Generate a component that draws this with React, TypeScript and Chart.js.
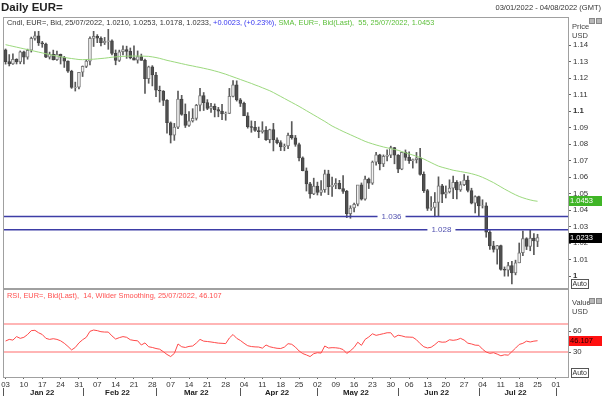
import React, { useEffect, useRef } from "react";
import { Chart, registerables } from "chart.js";

Chart.register(...registerables);

const FONT = "'Liberation Sans', Arial, Helvetica, sans-serif";

// Trading days Jan 3 2022 .. Jul 25 2022 (index 0..145), EUR= daily candles
const opens = [
  1.1370, 1.1299, 1.1285, 1.1313, 1.1297, 1.1359, 1.1327, 1.1368, 1.1440, 1.1455,
  1.1413, 1.1406, 1.1326, 1.1343, 1.1311, 1.1343, 1.1326, 1.1302, 1.1241, 1.1143,
  1.1145, 1.1235, 1.1270, 1.1302, 1.1440, 1.1452, 1.1441, 1.1414, 1.1422, 1.1425,
  1.1349, 1.1307, 1.1359, 1.1373, 1.1361, 1.1322, 1.1308, 1.1330, 1.1307, 1.1196,
  1.1267, 1.1218, 1.1126, 1.1121, 1.1064, 1.0929, 1.0854, 1.0902, 1.1073, 1.0980,
  1.0912, 1.0940, 1.0955, 1.1035, 1.1093, 1.1051, 1.1016, 1.1028, 1.1008, 1.0999,
  1.0983, 1.0985, 1.1089, 1.1159, 1.1067, 1.1046, 1.0970, 1.0905, 1.0901, 1.0882,
  1.0875, 1.0885, 1.0826, 1.0888, 1.0826, 1.0808, 1.0782, 1.0788, 1.0853, 1.0838,
  1.0797, 1.0716, 1.0638, 1.0558, 1.0498, 1.0545, 1.0507, 1.0523, 1.0619, 1.0542,
  1.0551, 1.0561, 1.0530, 1.0513, 1.0378, 1.0412, 1.0435, 1.0553, 1.0465, 1.0588,
  1.0563, 1.0690, 1.0735, 1.0680, 1.0725, 1.0733, 1.0779, 1.0733, 1.0648, 1.0749,
  1.0719, 1.0699, 1.0705, 1.0716, 1.0616, 1.0517, 1.0410, 1.0415, 1.0446, 1.0547,
  1.0496, 1.0509, 1.0533, 1.0567, 1.0522, 1.0554, 1.0582, 1.0518, 1.0441, 1.0481,
  1.0425, 1.0426, 1.0265, 1.0183, 1.0161, 1.0185, 1.0040, 1.0036, 1.0063, 1.0019,
  1.0080, 1.0141, 1.0227, 1.0179, 1.0230, 1.0210,
];
const highs = [
  1.1376, 1.1342, 1.1346, 1.1317, 1.1364, 1.1363, 1.1375, 1.1448, 1.1482, 1.1483,
  1.1422, 1.1412, 1.1357, 1.1369, 1.1363, 1.1345, 1.1331, 1.1304, 1.1247, 1.1175,
  1.1235, 1.1273, 1.1312, 1.1449, 1.1483, 1.1463, 1.1449, 1.1446, 1.1495, 1.1431,
  1.1370, 1.1369, 1.1395, 1.1393, 1.1382, 1.1395, 1.1364, 1.1345, 1.1315, 1.1272,
  1.1275, 1.1234, 1.1151, 1.1124, 1.1069, 1.0934, 1.0925, 1.1121, 1.1095, 1.1043,
  1.0997, 1.1014, 1.1040, 1.1137, 1.1112, 1.1069, 1.1047, 1.1043, 1.1022, 1.1040,
  1.0994, 1.1137, 1.1185, 1.1183, 1.1076, 1.1054, 1.0990, 1.0940, 1.0937, 1.0903,
  1.0935, 1.0905, 1.0890, 1.0925, 1.0837, 1.0820, 1.0800, 1.0866, 1.0936, 1.0852,
  1.0806, 1.0722, 1.0655, 1.0567, 1.0593, 1.0569, 1.0579, 1.0642, 1.0641, 1.0600,
  1.0590, 1.0580, 1.0608, 1.0519, 1.0426, 1.0442, 1.0548, 1.0564, 1.0605, 1.0594,
  1.0697, 1.0749, 1.0738, 1.0734, 1.0765, 1.0787, 1.0780, 1.0736, 1.0748, 1.0764,
  1.0752, 1.0709, 1.0749, 1.0774, 1.0631, 1.0525, 1.0481, 1.0506, 1.0601, 1.0555,
  1.0546, 1.0583, 1.0606, 1.0578, 1.0572, 1.0615, 1.0606, 1.0532, 1.0486, 1.0485,
  1.0462, 1.0444, 1.0275, 1.0210, 1.0186, 1.0187, 1.0055, 1.0083, 1.0089, 1.0096,
  1.0200, 1.0273, 1.0232, 1.0278, 1.0257, 1.0253,
];
const lows = [
  1.1284, 1.1273, 1.1283, 1.1285, 1.1286, 1.1285, 1.1314, 1.1357, 1.1429, 1.1397,
  1.1386, 1.1323, 1.1315, 1.1309, 1.1306, 1.1285, 1.1264, 1.1234, 1.1137, 1.1121,
  1.1134, 1.1209, 1.1263, 1.1280, 1.1391, 1.1414, 1.1395, 1.1403, 1.1374, 1.1340,
  1.1280, 1.1300, 1.1340, 1.1319, 1.1316, 1.1309, 1.1290, 1.1307, 1.1106, 1.1168,
  1.1152, 1.1087, 1.1054, 1.1033, 1.0865, 1.0806, 1.0822, 1.0893, 1.0974, 1.0900,
  1.0906, 1.0933, 1.0945, 1.1000, 1.1003, 1.1008, 1.0991, 1.0964, 1.0965, 1.0947,
  1.0944, 1.0984, 1.1085, 1.1060, 1.1027, 1.0972, 1.0896, 1.0871, 1.0876, 1.0838,
  1.0866, 1.0822, 1.0807, 1.0758, 1.0800, 1.0760, 1.0759, 1.0772, 1.0829, 1.0786,
  1.0697, 1.0637, 1.0515, 1.0471, 1.0493, 1.0491, 1.0489, 1.0507, 1.0493, 1.0483,
  1.0529, 1.0527, 1.0500, 1.0354, 1.0350, 1.0389, 1.0425, 1.0460, 1.0460, 1.0530,
  1.0555, 1.0671, 1.0643, 1.0663, 1.0698, 1.0717, 1.0680, 1.0627, 1.0644, 1.0701,
  1.0683, 1.0654, 1.0685, 1.0611, 1.0506, 1.0397, 1.0398, 1.0359, 1.0360, 1.0444,
  1.0473, 1.0503, 1.0469, 1.0467, 1.0513, 1.0548, 1.0510, 1.0437, 1.0382, 1.0366,
  1.0412, 1.0235, 1.0161, 1.0145, 1.0072, 1.0035, 0.9999, 0.9999, 0.9952, 1.0007,
  1.0080, 1.0123, 1.0160, 1.0153, 1.0130, 1.0178,
];
const closes = [
  1.1299, 1.1285, 1.1313, 1.1297, 1.1359, 1.1327, 1.1368, 1.1440, 1.1455, 1.1413,
  1.1406, 1.1326, 1.1343, 1.1311, 1.1343, 1.1326, 1.1302, 1.1241, 1.1143, 1.1145,
  1.1235, 1.1270, 1.1302, 1.1440, 1.1452, 1.1441, 1.1414, 1.1422, 1.1425, 1.1349,
  1.1307, 1.1359, 1.1373, 1.1361, 1.1322, 1.1308, 1.1330, 1.1307, 1.1196, 1.1267,
  1.1218, 1.1126, 1.1121, 1.1064, 1.0929, 1.0854, 1.0902, 1.1073, 1.0980, 1.0912,
  1.0940, 1.0955, 1.1035, 1.1093, 1.1051, 1.1016, 1.1028, 1.1008, 1.0999, 1.0983,
  1.0985, 1.1089, 1.1159, 1.1067, 1.1046, 1.0970, 1.0905, 1.0901, 1.0882, 1.0875,
  1.0885, 1.0826, 1.0888, 1.0826, 1.0808, 1.0782, 1.0788, 1.0853, 1.0838, 1.0797,
  1.0716, 1.0638, 1.0558, 1.0498, 1.0545, 1.0507, 1.0523, 1.0619, 1.0542, 1.0551,
  1.0561, 1.0530, 1.0513, 1.0378, 1.0412, 1.0435, 1.0553, 1.0465, 1.0588, 1.0563,
  1.0690, 1.0735, 1.0680, 1.0725, 1.0733, 1.0779, 1.0733, 1.0648, 1.0749, 1.0719,
  1.0699, 1.0705, 1.0716, 1.0616, 1.0517, 1.0410, 1.0415, 1.0446, 1.0547, 1.0496,
  1.0509, 1.0533, 1.0567, 1.0522, 1.0554, 1.0582, 1.0518, 1.0441, 1.0481, 1.0425,
  1.0426, 1.0265, 1.0183, 1.0161, 1.0185, 1.0040, 1.0036, 1.0063, 1.0019, 1.0080,
  1.0141, 1.0227, 1.0179, 1.0230, 1.0212, 1.0233,
];

// 55-day simple moving average
const sma55 = [
  1.1402, 1.1397, 1.1392, 1.1387, 1.1382, 1.1377, 1.1372, 1.1367, 1.1362, 1.1357,
  1.1352, 1.1347, 1.1342, 1.1337, 1.1333, 1.1329, 1.1325, 1.1321, 1.1318, 1.1315,
  1.1312, 1.1311, 1.1312, 1.1313, 1.1314, 1.1316, 1.1318, 1.1320, 1.1323, 1.1326,
  1.1328, 1.1330, 1.1331, 1.1332, 1.1333, 1.1333, 1.1333, 1.1333, 1.1332, 1.1331,
  1.1328, 1.1324, 1.1319, 1.1313, 1.1307, 1.1302, 1.1297, 1.1292, 1.1287, 1.1282,
  1.1277, 1.1273, 1.1268, 1.1264, 1.1259, 1.1254, 1.1249, 1.1243, 1.1237, 1.1230,
  1.1223, 1.1215, 1.1207, 1.1199, 1.1191, 1.1183, 1.1175, 1.1167, 1.1158, 1.1150,
  1.1141, 1.1132, 1.1123, 1.1112, 1.1100, 1.1088, 1.1076, 1.1064, 1.1052, 1.1040,
  1.1028, 1.1015, 1.1002, 1.0989, 1.0976, 1.0963, 1.0950, 1.0937, 1.0923, 1.0909,
  1.0898, 1.0887, 1.0876, 1.0866, 1.0856, 1.0846, 1.0836, 1.0826, 1.0816, 1.0808,
  1.0801, 1.0794, 1.0788, 1.0782, 1.0777, 1.0772, 1.0767, 1.0762, 1.0754, 1.0747,
  1.0740, 1.0733, 1.0726, 1.0718, 1.0709, 1.0698, 1.0687, 1.0676, 1.0666, 1.0659,
  1.0653, 1.0647, 1.0641, 1.0637, 1.0633, 1.0629, 1.0625, 1.0620, 1.0614, 1.0607,
  1.0598, 1.0588, 1.0577, 1.0566, 1.0553, 1.0540, 1.0527, 1.0515, 1.0503, 1.0492,
  1.0482, 1.0474, 1.0467, 1.0461, 1.0456, 1.0453,
];

// RSI(14)
const rsi14 = [
  45.7, 48, 47, 52, 49.5, 51, 55, 60.5, 61, 57.5,
  55, 49.5, 48, 49, 48, 46, 42.5, 38, 33, 36.5,
  43, 47.5, 51, 59.5, 61.4, 60.5, 59, 58.5, 58.5, 53,
  48.5, 50.5, 52, 51, 47.5, 46.5, 46, 40, 43, 37.5,
  36.5, 35, 34, 30.5, 26.5, 23.5, 28, 41.5, 37.5, 36.5,
  38, 38.6, 42.8, 48, 45.5, 45, 44.3, 43.5, 42.7, 42.4,
  42, 50, 55, 49.5, 46.5, 42.5, 39, 37.8, 37.3, 37.1,
  35.5, 40, 37.5, 36.3, 35.3, 35, 37, 41.9, 41, 37,
  31.5, 27.8, 25.8, 23.5, 27.6, 29, 28.5, 38.6, 35.7, 36.2,
  36, 35.3, 33.5, 28, 31.8, 36.5, 44, 39.5, 48, 51.5,
  56, 53.8, 55, 56.2, 57.5, 57.5, 51, 54, 53, 51.5,
  51.3, 51, 47.5, 42, 37.5, 35.8, 36.8, 40.5, 45, 44,
  44.3, 47.5, 46.7, 47.5, 49.5, 47, 42.6, 41.5, 39.8, 39.5,
  34, 30, 28.1, 29, 27, 24.6, 26, 25.5, 30.5, 35.5,
  40.8, 42.4, 45.5, 44.3, 45.5, 46.107,
];

const levels = [1.036, 1.028];
const priceTicks = [1.14, 1.13, 1.12, 1.11, 1.1, 1.09, 1.08, 1.07, 1.06, 1.05, 1.04, 1.03, 1.02, 1.01, 1];
const rsiTicks = [60, 30];
const rsiBands = [70, 30];
const weekLabels = [
  "03", "10", "17", "24", "31", "07", "14", "21", "28", "07", "14", "21", "28",
  "04", "11", "18", "25", "02", "09", "16", "23", "30", "06", "13", "20", "27",
  "04", "11", "18", "25", "01",
];
const monthLabels = ["Jan 22", "Feb 22", "Mar 22", "Apr 22", "May 22", "Jun 22", "Jul 22"];
const monthStarts = [0, 21, 41, 64, 85, 107, 129, 150];

const X_MIN = -0.7;
const X_MAX = 153.3;
const LEVEL_LABEL_AT = [105.2, 118.8];

function drawSmallIcons(c: CanvasRenderingContext2D, y: number) {
  c.fillStyle = "#b8b8b8";
  c.strokeStyle = "#888";
  c.lineWidth = 1;
  [589, 596].forEach((x) => {
    c.fillRect(x, y, 5, 5);
    c.strokeRect(x + 0.5, y + 0.5, 5, 5);
  });
}

function drawAuto(c: CanvasRenderingContext2D, x: number, y: number) {
  c.fillStyle = "#fff";
  c.fillRect(x, y, 17, 9);
  c.strokeStyle = "#555";
  c.lineWidth = 1;
  c.strokeRect(x + 0.5, y + 0.5, 17, 9);
  c.fillStyle = "#333";
  c.font = `7px ${FONT}`;
  c.textAlign = "left";
  c.textBaseline = "middle";
  c.fillText("Auto", x + 1.5, y + 5);
}

function drawValueBox(c: CanvasRenderingContext2D, y: number, text: string, bg: string, fg: string) {
  c.fillStyle = bg;
  c.fillRect(569, Math.round(y) - 5, 33, 10);
  c.fillStyle = fg;
  c.font = `7.5px ${FONT}`;
  c.textAlign = "left";
  c.textBaseline = "middle";
  c.fillText(text, 570, Math.round(y));
}

const noPad = (s: any) => {
  s.paddingTop = 0;
  s.paddingBottom = 0;
  s.paddingLeft = 0;
  s.paddingRight = 0;
};

export default function App() {
  const mainRef = useRef<HTMLCanvasElement>(null);
  const rsiRef = useRef<HTMLCanvasElement>(null);

  useEffect(() => {
    Chart.defaults.font.family = FONT;
    const idx = closes.map((_, i) => i);
    const last = closes.length - 1;
    const up = (i: number) => closes[i] >= opens[i];

    const mainPlugin = {
      id: "mainDecor",
      beforeDraw(chart: any) {
        const c = chart.ctx;
        c.save();
        c.fillStyle = "#fff";
        c.fillRect(0, 0, chart.width, chart.height);
        c.restore();
      },
      afterDraw(chart: any) {
        const c: CanvasRenderingContext2D = chart.ctx;
        const a = chart.chartArea;
        const xs = chart.scales.x;
        const ys = chart.scales.y;
        c.save();
        c.strokeStyle = "#a0a0a0";
        c.lineWidth = 1;
        c.strokeRect(a.left + 0.5, a.top + 0.5, a.right - a.left, a.bottom - a.top);

        // level labels
        c.font = `8px ${FONT}`;
        c.textAlign = "center";
        c.textBaseline = "middle";
        levels.forEach((lv, k) => {
          const x = xs.getPixelForValue(LEVEL_LABEL_AT[k]);
          const y = ys.getPixelForValue(lv);
          const t = lv.toFixed(3);
          const w = c.measureText(t).width + 8;
          c.fillStyle = "#fff";
          c.fillRect(x - w / 2, y - 3, w, 6);
          c.fillStyle = "#5252b0";
          c.fillText(t, x, y);
        });

        // header line
        const segs: [string, string][] = [
          [
            `Cndl, EUR=, Bid, 25/07/2022, ${opens[last].toFixed(4)}, ${highs[last].toFixed(4)}, ${lows[last].toFixed(4)}, ${closes[last].toFixed(4)}, `,
            "#333",
          ],
          ["+0.0023, (+0.23%), ", "#3535f0"],
          [`SMA, EUR=, Bid(Last),  55, 25/07/2022, ${sma55[last].toFixed(4)}`, "#5cbf3a"],
        ];
        c.font = `7.4px ${FONT}`;
        c.textAlign = "left";
        c.textBaseline = "middle";
        let hx = 7;
        segs.forEach(([t, col]) => {
          c.fillStyle = col;
          c.fillText(t, hx, 22.5);
          hx += c.measureText(t).width;
        });

        // right side labels
        c.fillStyle = "#444";
        c.font = `7.5px ${FONT}`;
        c.fillText("Price", 572, 27);
        c.fillText("USD", 572, 36);
        drawSmallIcons(c, 18);
        drawAuto(c, 571, 279);

        drawValueBox(c, ys.getPixelForValue(sma55[last]), sma55[last].toFixed(4), "#3fb526", "#fff");
        drawValueBox(c, ys.getPixelForValue(closes[last]), closes[last].toFixed(4), "#000", "#fff");
        c.restore();
      },
    };

    const mainChart = new Chart(mainRef.current as HTMLCanvasElement, {
      type: "line",
      data: {
        datasets: [
          {
            type: "line",
            data: idx.map((i) => ({ x: i, y: sma55[i] })),
            borderColor: "#9cd97e",
            borderWidth: 1,
            pointRadius: 0,
            order: 0,
          },
          ...levels.map((lv) => ({
            type: "line" as const,
            data: [
              { x: X_MIN, y: lv },
              { x: X_MAX, y: lv },
            ],
            borderColor: "#3d3da6",
            borderWidth: 1.5,
            pointRadius: 0,
            order: 0,
          })),
          {
            type: "bar",
            data: idx.map((i) => ({ x: i, y: [opens[i], closes[i]] })),
            backgroundColor: (ctx: any) => (up(ctx.dataIndex) ? "#f2f2f2" : "#505050"),
            borderColor: (ctx: any) => (up(ctx.dataIndex) ? "#7a7a7a" : "#444"),
            borderWidth: 1,
            borderSkipped: false,
            barThickness: 3,
            grouped: false,
            order: 1,
          } as any,
          {
            type: "bar",
            data: idx.map((i) => ({ x: i, y: [lows[i], highs[i]] })),
            backgroundColor: "#5a5a5a",
            borderWidth: 0,
            barThickness: 1,
            grouped: false,
            order: 2,
          } as any,
        ],
      },
      options: {
        animation: false,
        responsive: false,
        maintainAspectRatio: false,
        layout: { padding: { left: 3, top: 17, bottom: 1, right: 0 } },
        plugins: { legend: { display: false }, tooltip: { enabled: false } },
        scales: {
          x: { type: "linear", min: X_MIN, max: X_MAX, offset: false, display: false },
          y: {
            type: "linear",
            position: "right",
            min: 0.99273,
            max: 1.15697,
            afterBuildTicks: (s: any) => {
              s.ticks = priceTicks.map((v) => ({ value: v }));
            },
            afterFit: (s: any) => {
              s.width = 34;
              noPad(s);
            },
            grid: { drawOnChartArea: false, tickLength: 3, color: "#666" },
            border: { color: "#a0a0a0" },
            ticks: {
              padding: 2,
              color: "#333",
              font: (ctx: any) => ({
                family: FONT,
                size: 7.8,
                weight: ctx.tick && (ctx.tick.value === 1.1 || ctx.tick.value === 1) ? "bold" : "normal",
              }),
              callback: (v: any) => String(v),
            },
          },
        },
      } as any,
      plugins: [mainPlugin],
    });

    const rsiPlugin = {
      id: "rsiDecor",
      beforeDraw(chart: any) {
        const c = chart.ctx;
        c.save();
        c.fillStyle = "#fff";
        c.fillRect(0, 0, chart.width, chart.height);
        c.restore();
      },
      afterDraw(chart: any) {
        const c: CanvasRenderingContext2D = chart.ctx;
        const a = chart.chartArea;
        const xs = chart.scales.x;
        const ys = chart.scales.y;
        c.save();
        c.strokeStyle = "#a0a0a0";
        c.lineWidth = 1;
        c.strokeRect(a.left + 0.5, a.top + 0.5, a.right - a.left, a.bottom - a.top);

        c.font = `7.4px ${FONT}`;
        c.textAlign = "left";
        c.textBaseline = "middle";
        c.fillStyle = "#ff5050";
        c.fillText(`RSI, EUR=, Bid(Last),  14, Wilder Smoothing, 25/07/2022, ${rsi14[last].toFixed(3)}`, 7, 6.5);

        c.fillStyle = "#444";
        c.font = `7.5px ${FONT}`;
        c.fillText("Value", 572, 14);
        c.fillText("USD", 572, 23);
        drawSmallIcons(c, 9);
        drawAuto(c, 571, 79);

        drawValueBox(c, ys.getPixelForValue(rsi14[last]), rsi14[last].toFixed(3), "#ff1010", "#200000");

        // month separators and labels
        c.strokeStyle = "#555";
        c.lineWidth = 1;
        const sepTop = a.bottom + 11;
        c.beginPath();
        c.moveTo(a.left + 0.5, sepTop);
        c.lineTo(a.left + 0.5, chart.height);
        monthStarts.slice(1).forEach((m) => {
          const x = Math.round(xs.getPixelForValue(m)) + 0.5;
          c.moveTo(x, sepTop);
          c.lineTo(x, chart.height);
        });
        c.stroke();
        c.fillStyle = "#222";
        c.font = `bold 7.8px ${FONT}`;
        c.textAlign = "center";
        c.textBaseline = "middle";
        monthLabels.forEach((t, k) => {
          const mid = (monthStarts[k] + monthStarts[k + 1] - 1) / 2;
          c.fillText(t, xs.getPixelForValue(mid), a.bottom + 16);
        });
        c.restore();
      },
    };

    const rsiChart = new Chart(rsiRef.current as HTMLCanvasElement, {
      type: "line",
      data: {
        datasets: [
          {
            type: "line",
            data: idx.map((i) => ({ x: i, y: rsi14[i] })),
            borderColor: "#ff4a4a",
            borderWidth: 1,
            pointRadius: 0,
            order: 0,
          },
          ...rsiBands.map((b) => ({
            type: "line" as const,
            data: [
              { x: X_MIN, y: b },
              { x: X_MAX, y: b },
            ],
            borderColor: "#ff9c9c",
            borderWidth: 1.5,
            pointRadius: 0,
            order: 1,
          })),
        ],
      },
      options: {
        animation: false,
        responsive: false,
        maintainAspectRatio: false,
        layout: { padding: { left: 3, top: 0, bottom: 0, right: 0 } },
        plugins: { legend: { display: false }, tooltip: { enabled: false } },
        scales: {
          x: {
            type: "linear",
            min: X_MIN,
            max: X_MAX,
            offset: false,
            afterBuildTicks: (s: any) => {
              s.ticks = weekLabels.map((_, k) => ({ value: k * 5 }));
            },
            afterFit: (s: any) => {
              s.height = 19;
              noPad(s);
            },
            grid: { drawOnChartArea: false, tickLength: 2, color: "#666" },
            border: { color: "#a0a0a0" },
            ticks: {
              autoSkip: false,
              maxRotation: 0,
              padding: 1,
              color: "#333",
              font: { size: 7.8, family: FONT },
              callback: (_v: any, k: number) => weekLabels[k],
            },
          },
          y: {
            type: "linear",
            position: "right",
            min: -5.7,
            max: 120,
            afterBuildTicks: (s: any) => {
              s.ticks = rsiTicks.map((v) => ({ value: v }));
            },
            afterFit: (s: any) => {
              s.width = 34;
              noPad(s);
            },
            grid: { drawOnChartArea: false, tickLength: 3, color: "#666" },
            border: { color: "#a0a0a0" },
            ticks: {
              padding: 2,
              color: "#333",
              font: { size: 7.8, family: FONT },
              callback: (v: any) => String(v),
            },
          },
        },
      } as any,
      plugins: [rsiPlugin],
    });

    return () => {
      mainChart.destroy();
      rsiChart.destroy();
    };
  }, []);

  return (
    <div
      style={{
        position: "absolute",
        left: 0,
        top: 0,
        width: 602,
        height: 396,
        background: "#fff",
        overflow: "hidden",
        fontFamily: FONT,
      }}
    >
      <canvas
        ref={mainRef}
        width={602}
        height={289}
        style={{ position: "absolute", left: 0, top: 0, width: 602, height: 289 }}
      />
      <canvas
        ref={rsiRef}
        width={602}
        height={107}
        style={{ position: "absolute", left: 0, top: 289, width: 602, height: 107 }}
      />
      <div
        style={{
          position: "absolute",
          left: 1,
          top: 0,
          fontSize: 11.5,
          fontWeight: "bold",
          color: "#222",
          lineHeight: "14px",
          whiteSpace: "nowrap",
        }}
      >
        Daily EUR=
      </div>
      <div
        style={{
          position: "absolute",
          right: 1,
          top: 3,
          fontSize: 7.5,
          color: "#333",
          lineHeight: "9px",
          whiteSpace: "nowrap",
        }}
      >
        03/01/2022 - 04/08/2022 (GMT)
      </div>
    </div>
  );
}
